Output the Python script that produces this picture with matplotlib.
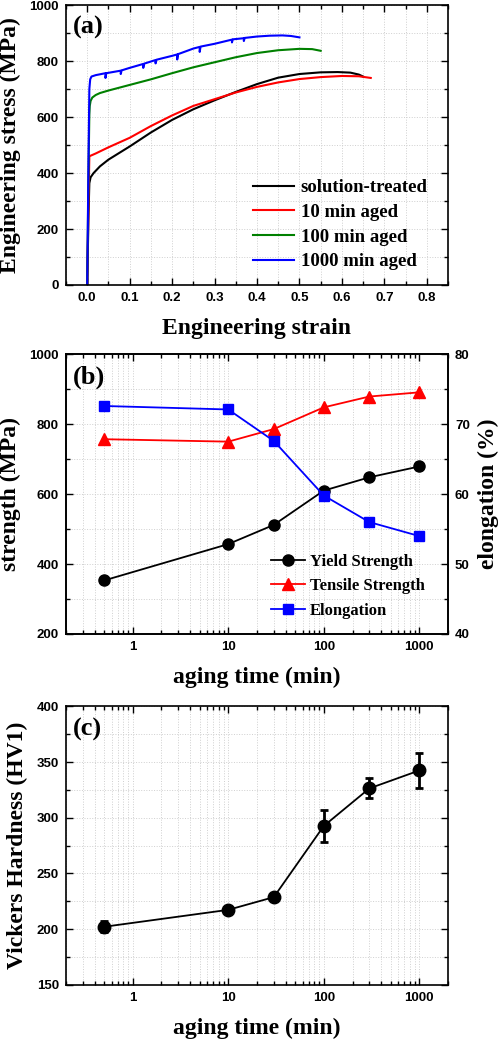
import matplotlib

matplotlib.use("Agg")
import matplotlib.pyplot as plt  # noqa: E402
from matplotlib.ticker import MultipleLocator, NullFormatter  # noqa: E402

SERIF = "Liberation Serif"
GRID = "#cfcfcf"

plt.rcParams["font.family"] = "Liberation Sans"
plt.rcParams["font.weight"] = "bold"

# (a) engineering stress-strain curves (strain, MPa)
st_strain = [0.0, 0.003, 0.005, 0.008, 0.015, 0.03, 0.05, 0.1, 0.15, 0.2, 0.25, 0.3,
             0.35, 0.4, 0.45, 0.5, 0.55, 0.59, 0.62, 0.64, 0.65]
st_stress = [0, 250, 364, 385, 400, 424, 448, 495, 545, 590, 628, 660, 690, 718,
             741, 754, 760, 761, 759, 752, 745]

a10_strain = [0.0, 0.003, 0.005, 0.02, 0.05, 0.1, 0.15, 0.2, 0.25, 0.3, 0.35, 0.4,
              0.45, 0.5, 0.55, 0.6, 0.64, 0.668]
a10_stress = [0, 300, 460, 470, 492, 526, 568, 606, 640, 664, 688, 708, 724, 736,
              743, 747, 746, 740]

a100_strain = [0.0, 0.003, 0.005, 0.006, 0.008, 0.012, 0.02, 0.03, 0.05, 0.1, 0.15,
               0.2, 0.25, 0.3, 0.35, 0.4, 0.45, 0.5, 0.53, 0.55]
a100_stress = [0, 400, 610, 640, 658, 670, 679, 686, 695, 715, 735, 757, 778, 796,
               814, 829, 839, 844, 843, 837]

a1000_strain = [0.0, 0.003, 0.005, 0.007, 0.01, 0.02, 0.03, 0.043, 0.043, 0.045, 0.079,
                0.079, 0.081, 0.1, 0.132, 0.132, 0.134, 0.161, 0.161, 0.163, 0.2, 0.212,
                0.212, 0.214, 0.25, 0.265, 0.265, 0.267, 0.3, 0.341, 0.341, 0.343, 0.369,
                0.369, 0.371, 0.4, 0.43, 0.46, 0.48, 0.5]
a1000_stress = [0, 450, 700, 735, 745, 750, 753, 757, 740, 757, 766, 754, 767, 776,
                790, 776, 791, 804, 792, 805, 819, 824, 806, 825, 845, 851, 833, 852,
                862, 877, 867, 878, 882, 872, 883, 888, 891, 892, 890, 885]

curve_labels = ["solution-treated", "10 min aged", "100 min aged", "1000 min aged"]

# (b) strength / elongation vs aging time
aging_time = [0.5, 10, 30, 100, 300, 1000]
yield_strength = [353, 457, 512, 610, 648, 679]
tensile_strength = [757, 750, 786, 848, 879, 891]
elongation = [72.6, 72.1, 67.6, 59.8, 56.0, 54.0]

# (c) Vickers hardness
hardness = [202.2, 217.4, 228.8, 292.6, 326.3, 342.4]
hardness_err = [5, 2, 2, 14, 9, 16]


def ticks(ax, **kw):
    ax.tick_params(which="both", direction="in", width=1.0, labelsize=9.5, pad=5, **kw)
    ax.tick_params(which="major", length=5)
    ax.tick_params(which="minor", length=3)


def style(ax, right=True):
    for s in ax.spines.values():
        s.set_linewidth(1.2)
        s.set_color("black")
    ticks(ax, top=True, right=right)
    ax.grid(True, which="both", color=GRID, linestyle=":", linewidth=0.7)
    ax.set_axisbelow(True)


def axlabel(ax, xtext, ytext):
    kw = dict(fontsize=17, fontweight="bold", fontfamily=SERIF)
    ax.set_xlabel(xtext, labelpad=10, **kw)
    ax.set_ylabel(ytext, labelpad=6, **kw)


def panel(ax, text, y):
    ax.text(0.018, y, text, transform=ax.transAxes, fontsize=19, fontweight="bold",
            fontfamily=SERIF, ha="left", va="center")


fig = plt.figure(figsize=(5.0, 10.4), dpi=100)
W = 0.764
L = 0.132

# ---- (a)
ax = fig.add_axes([L, 0.726, W, 0.269])
for xs, ys, c, lab in zip(
    [st_strain, a10_strain, a100_strain, a1000_strain],
    [st_stress, a10_stress, a100_stress, a1000_stress],
    ["black", "red", "green", "blue"],
    curve_labels,
):
    ax.plot(xs, ys, color=c, linewidth=1.5, label=lab)
ax.set_xlim(-0.05, 0.85)
ax.set_ylim(0, 1000)
ax.xaxis.set_major_locator(MultipleLocator(0.1))
ax.xaxis.set_minor_locator(MultipleLocator(0.05))
ax.yaxis.set_major_locator(MultipleLocator(200))
ax.yaxis.set_minor_locator(MultipleLocator(100))
ax.xaxis.set_major_formatter(lambda v, _p: f"{v:.1f}")
style(ax)
axlabel(ax, "Engineering strain", "Engineering stress (MPa)")
panel(ax, "(a)", 0.92)
ax.legend(frameon=False, loc="upper left", bbox_to_anchor=(0.47, 0.405),
          borderaxespad=0, handlelength=2.2, handletextpad=0.35, labelspacing=0.4,
          prop={"family": SERIF, "weight": "bold", "size": 13.5})

# ---- (b)
axb = fig.add_axes([L, 0.3904, W, 0.269])
axb.plot(aging_time, yield_strength, color="black", marker="o", markersize=8,
         linewidth=1.3, label="Yield Strength")
axb.plot(aging_time, tensile_strength, color="red", marker="^", markersize=9,
         linewidth=1.3, label="Tensile Strength")
axb.set_xscale("log")
axb.set_xlim(0.2, 2000)
axb.set_ylim(200, 1000)
axb.yaxis.set_major_locator(MultipleLocator(200))
axb.yaxis.set_minor_locator(MultipleLocator(100))
axb.xaxis.set_major_formatter(lambda v, _p: f"{v:g}")
axb.xaxis.set_minor_formatter(NullFormatter())
style(axb, right=False)
axlabel(axb, "aging time (min)", "strength (MPa)")
axe = axb.twinx()
axe.plot(aging_time, elongation, color="blue", marker="s", markersize=7.5,
         linewidth=1.3, label="Elongation")
axe.set_ylim(40, 80)
axe.yaxis.set_major_locator(MultipleLocator(10))
axe.yaxis.set_minor_locator(MultipleLocator(5))
for s in axe.spines.values():
    s.set_linewidth(1.2)
ticks(axe)
axe.set_ylabel("elongation (%)", fontsize=17, fontweight="bold", fontfamily=SERIF,
               labelpad=6)
panel(axb, "(b)", 0.916)
h1, l1 = axb.get_legend_handles_labels()
h2, l2 = axe.get_legend_handles_labels()
axe.legend(h1 + h2, l1 + l2, frameon=False, loc="upper left",
           bbox_to_anchor=(0.52, 0.31), borderaxespad=0, handlelength=2.0,
           handletextpad=0.3, labelspacing=0.5,
           prop={"family": SERIF, "weight": "bold", "size": 12})

# ---- (c)
axc = fig.add_axes([L, 0.0529, W, 0.268])
axc.errorbar(aging_time, hardness, yerr=hardness_err, color="black", marker="o",
             markersize=9, linewidth=1.3, elinewidth=2.0, capsize=3, capthick=2.0)
axc.set_xscale("log")
axc.set_xlim(0.2, 2000)
axc.set_ylim(150, 400)
axc.yaxis.set_major_locator(MultipleLocator(50))
axc.yaxis.set_minor_locator(MultipleLocator(25))
axc.xaxis.set_major_formatter(lambda v, _p: f"{v:g}")
axc.xaxis.set_minor_formatter(NullFormatter())
style(axc)
axlabel(axc, "aging time (min)", "Vickers Hardness (HV1)")
panel(axc, "(c)", 0.918)

fig.savefig("out.png", dpi=100, facecolor="white")
